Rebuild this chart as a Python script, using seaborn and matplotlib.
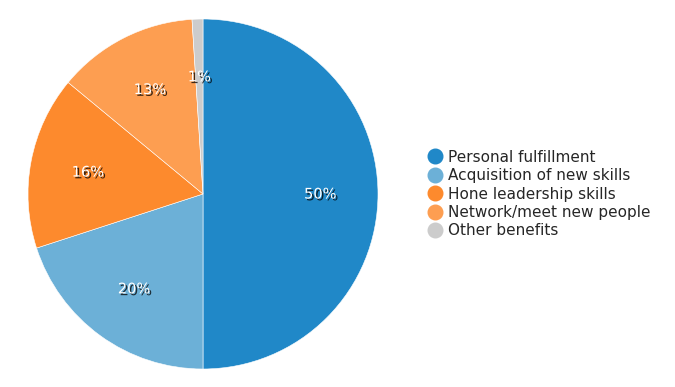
import matplotlib
matplotlib.use("Agg")
import matplotlib.pyplot as plt
import matplotlib.patheffects as pe
from matplotlib.lines import Line2D
import seaborn as sns

# Dados do gráfico
categorias = ['Personal fulfillment', 'Acquisition of new skills',
              'Hone leadership skills', 'Network/meet new people', 'Other benefits']
valores = [50, 20, 16, 13, 1]
cores = ['#2088c8', '#6cb0d7', '#fd8a2d', '#fd9e51', '#cccccc']

sns.set_style('white')
plt.rcParams['font.family'] = ['DejaVu Sans']

fig = plt.figure(figsize=(6.75, 3.87), dpi=100)
ax = fig.add_axes([28 / 675, 18 / 387, 350 / 675, 350 / 387])

wedges, textos, autotextos = ax.pie(
    valores,
    colors=sns.color_palette(cores),
    startangle=90,
    counterclock=False,
    autopct='%d%%',
    pctdistance=0.67,
    wedgeprops=dict(edgecolor='white', linewidth=0.4),
    textprops=dict(color='white', fontsize=10.5),
)

# Sombra nos rótulos
for t in autotextos:
    t.set_path_effects([pe.withSimplePatchShadow(offset=(1.3, -1.3), shadow_rgbFace='black', alpha=0.75)])

ax.set_xlim(-1, 1)
ax.set_ylim(-1, 1)
ax.axis('off')

# Legenda
handles = [Line2D([0], [0], marker='o', linestyle='', markersize=10.5,
                  markerfacecolor=c, markeredgecolor=c) for c in cores]
fig.legend(handles, categorias, loc='center left',
           bbox_to_anchor=(420 / 675, 1 - 194 / 387),
           frameon=False, fontsize=11, handletextpad=0.35,
           labelspacing=0.22, handlelength=1.1, borderaxespad=0)

fig.savefig('out.png', dpi=100)
